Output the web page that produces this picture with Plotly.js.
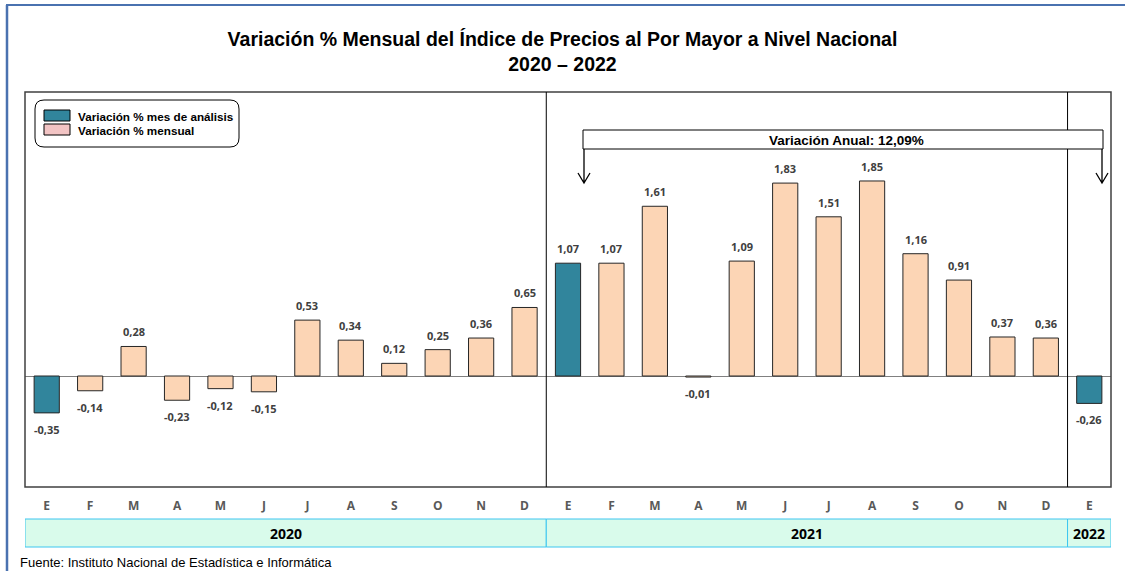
<!DOCTYPE html>
<html>
<head>
<meta charset="utf-8">
<script src="https://cdn.plot.ly/plotly-3.0.1.min.js"></script>
<style>
  html, body { margin: 0; padding: 0; background: #fff; }
  #chart { width: 1125px; height: 571px; }
</style>
</head>
<body>
<div id="chart"></div>
<script>
// --- data ---
const months = ['E','F','M','A','M','J','J','A','S','O','N','D',
                'E','F','M','A','M','J','J','A','S','O','N','D','E'];
const values = [-0.35, -0.14, 0.28, -0.23, -0.12, -0.15, 0.53, 0.34, 0.12, 0.25, 0.36, 0.65,
                1.07, 1.07, 1.61, -0.01, 1.09, 1.83, 1.51, 1.85, 1.16, 0.91, 0.37, 0.36,
                -0.26];
// months highlighted as "mes de análisis"
const analysisIdx = [0, 12, 24];
const years = ['2020', '2021', '2022'];
const yearSpans = [[-0.5, 11.5], [11.5, 23.5], [23.5, 24.5]];
const legendLabels = ['Variación % mes de análisis', 'Variación % mensual'];
const annualText = 'Variación Anual: 12,09%';

const TEAL = '#31859C';
const PEACH = '#FCD5B5';
const idx = months.map((m, i) => i);

// --- pixel helpers (plot area in page pixels) ---
const L = 25, R = 1111, T = 92, B = 487;
const px = x => (x - L) / (R - L);
const py = y => (B - y) / (B - T);

const analysisTrace = {
  type: 'bar',
  x: idx,
  y: values.map((v, i) => analysisIdx.includes(i) ? v : null),
  width: 0.58,
  marker: { color: TEAL, line: { color: '#262626', width: 1 } },
  showlegend: false,
  hoverinfo: 'y'
};
const monthlyTrace = {
  type: 'bar',
  x: idx,
  y: values.map((v, i) => analysisIdx.includes(i) ? null : v),
  width: 0.58,
  marker: { color: PEACH, line: { color: '#262626', width: 1 } },
  showlegend: false,
  hoverinfo: 'y'
};

// value labels
const labelAnns = values.map((v, i) => ({
  x: i, y: v, xref: 'x', yref: 'y',
  text: v.toFixed(2).replace('.', ','),
  showarrow: false,
  yanchor: v >= 0 ? 'bottom' : 'top',
  yshift: v >= 0 ? 5 : -7,
  font: { family: 'Open Sans', size: 11, color: '#404040', weight: 'bold' }
}));

// year band labels
const yearAnns = years.map((yr, k) => ({
  x: (yearSpans[k][0] + yearSpans[k][1]) / 2, xref: 'x',
  y: py(533), yref: 'paper', yanchor: 'middle',
  text: yr, showarrow: false,
  font: { family: 'Open Sans', size: 14, color: '#000', weight: 'bold' }
}));

const otherAnns = [
  { x: px(76), y: py(116), xref: 'paper', yref: 'paper', xanchor: 'left', yanchor: 'middle', showarrow: false,
    text: legendLabels[0], font: { family: 'Liberation Sans', size: 11.7, color: '#000', weight: 'bold' } },
  { x: px(76), y: py(130), xref: 'paper', yref: 'paper', xanchor: 'left', yanchor: 'middle', showarrow: false,
    text: legendLabels[1], font: { family: 'Liberation Sans', size: 11.7, color: '#000', weight: 'bold' } },
  { x: px(846), y: py(140), xref: 'paper', yref: 'paper', xanchor: 'center', yanchor: 'middle', showarrow: false,
    text: annualText, font: { family: 'Liberation Sans', size: 13.5, color: '#000', weight: 'bold' } },
  { x: px(18), y: py(562), xref: 'paper', yref: 'paper', xanchor: 'left', yanchor: 'middle', showarrow: false,
    text: 'Fuente: Instituto Nacional de Estadística e Informática',
    font: { family: 'Liberation Sans', size: 13, color: '#000' } }
];

const shapes = [
  // plot frame
  { type: 'rect', xref: 'paper', yref: 'paper', x0: 0, x1: 1, y0: 0, y1: 1,
    line: { color: '#404040', width: 1.5 } },
  // year separators inside chart
  { type: 'line', xref: 'x', yref: 'paper', x0: 11.5, x1: 11.5, y0: 0, y1: 1,
    line: { color: '#000', width: 1 } },
  { type: 'line', xref: 'x', yref: 'paper', x0: 23.5, x1: 23.5, y0: 0, y1: 1,
    line: { color: '#000', width: 1 } },
  // legend box (rounded)
  { type: 'path', xref: 'paper', yref: 'paper',
    path: roundRect(35, 100, 239, 147, 9), line: { color: '#000', width: 1 }, fillcolor: '#fff' },
  { type: 'rect', xref: 'paper', yref: 'paper', x0: px(44), x1: px(70), y0: py(110), y1: py(121),
    fillcolor: TEAL, line: { color: '#000', width: 1 } },
  { type: 'rect', xref: 'paper', yref: 'paper', x0: px(44), x1: px(70), y0: py(124), y1: py(135),
    fillcolor: '#F2C4C4', line: { color: '#000', width: 1 } },
  // annual variation box
  { type: 'rect', xref: 'paper', yref: 'paper', x0: px(583), x1: px(1103), y0: py(130), y1: py(149),
    fillcolor: '#fff', line: { color: '#000', width: 1 } },
  { type: 'path', xref: 'paper', yref: 'paper',
    path: arrowPath(584, 149, 183), line: { color: '#000', width: 1.3 } },
  { type: 'path', xref: 'paper', yref: 'paper',
    path: arrowPath(1102, 149, 183), line: { color: '#000', width: 1.3 } },
  // outer blue frame
  { type: 'line', xref: 'paper', yref: 'paper', x0: px(7), x1: px(7), y0: py(5), y1: py(575),
    line: { color: '#4A72B0', width: 2.5 } },
  { type: 'line', xref: 'paper', yref: 'paper', x0: px(6), x1: px(1130), y0: py(5), y1: py(5),
    line: { color: '#4A72B0', width: 2 } }
];
// year band cells
yearSpans.forEach(s => shapes.push({
  type: 'rect', xref: 'x', yref: 'paper', x0: s[0], x1: s[1], y0: py(519), y1: py(547),
  fillcolor: '#D9FBEB', line: { color: '#3CC6F0', width: 1 }, layer: 'below'
}));

function roundRect(x0, y0, x1, y1, r) {
  const X = v => px(v), Y = v => py(v);
  const rx = r / (R - L), ry = r / (B - T);
  return `M ${X(x0) + rx},${Y(y0)} L ${X(x1) - rx},${Y(y0)} Q ${X(x1)},${Y(y0)} ${X(x1)},${Y(y0) - ry} ` +
         `L ${X(x1)},${Y(y1) + ry} Q ${X(x1)},${Y(y1)} ${X(x1) - rx},${Y(y1)} ` +
         `L ${X(x0) + rx},${Y(y1)} Q ${X(x0)},${Y(y1)} ${X(x0)},${Y(y1) + ry} ` +
         `L ${X(x0)},${Y(y0) - ry} Q ${X(x0)},${Y(y0)} ${X(x0) + rx},${Y(y0)} Z`;
}
function arrowPath(x, y0, y1) {
  return `M ${px(x)},${py(y0)} L ${px(x)},${py(y1)} M ${px(x - 6)},${py(y1 - 10)} L ${px(x)},${py(y1)} L ${px(x + 6)},${py(y1 - 10)}`;
}

const layout = {
  width: 1125, height: 571,
  margin: { l: L, r: 1125 - R, t: T, b: 571 - B },
  paper_bgcolor: '#fff', plot_bgcolor: '#fff',
  barmode: 'overlay',
  title: {
    text: 'Variación % Mensual del Índice de Precios al Por Mayor a Nivel Nacional<br>2020 – 2022',
    x: 0.5, xref: 'container', y: 1 - 46 / 571, yref: 'container', yanchor: 'top',
    font: { family: 'Liberation Sans', size: 19.5, color: '#000', weight: 'bold' }
  },
  xaxis: {
    range: [-0.5, 24.5], tickvals: idx, ticktext: months,
    showgrid: false, zeroline: false, showline: false, ticks: '',
    ticklabelstandoff: 10,
    tickfont: { family: 'Open Sans', size: 12, color: '#595959', weight: 'bold' },
    fixedrange: true
  },
  yaxis: {
    range: [-1.053, 2.694], visible: true, showticklabels: false, ticks: '',
    showgrid: false, showline: false, zeroline: true, zerolinecolor: '#808080', zerolinewidth: 1,
    fixedrange: true
  },
  shapes: shapes,
  annotations: labelAnns.concat(yearAnns, otherAnns),
  showlegend: false
};

Plotly.newPlot('chart', [analysisTrace, monthlyTrace], layout, { displayModeBar: false, staticPlot: true });
</script>
</body>
</html>
